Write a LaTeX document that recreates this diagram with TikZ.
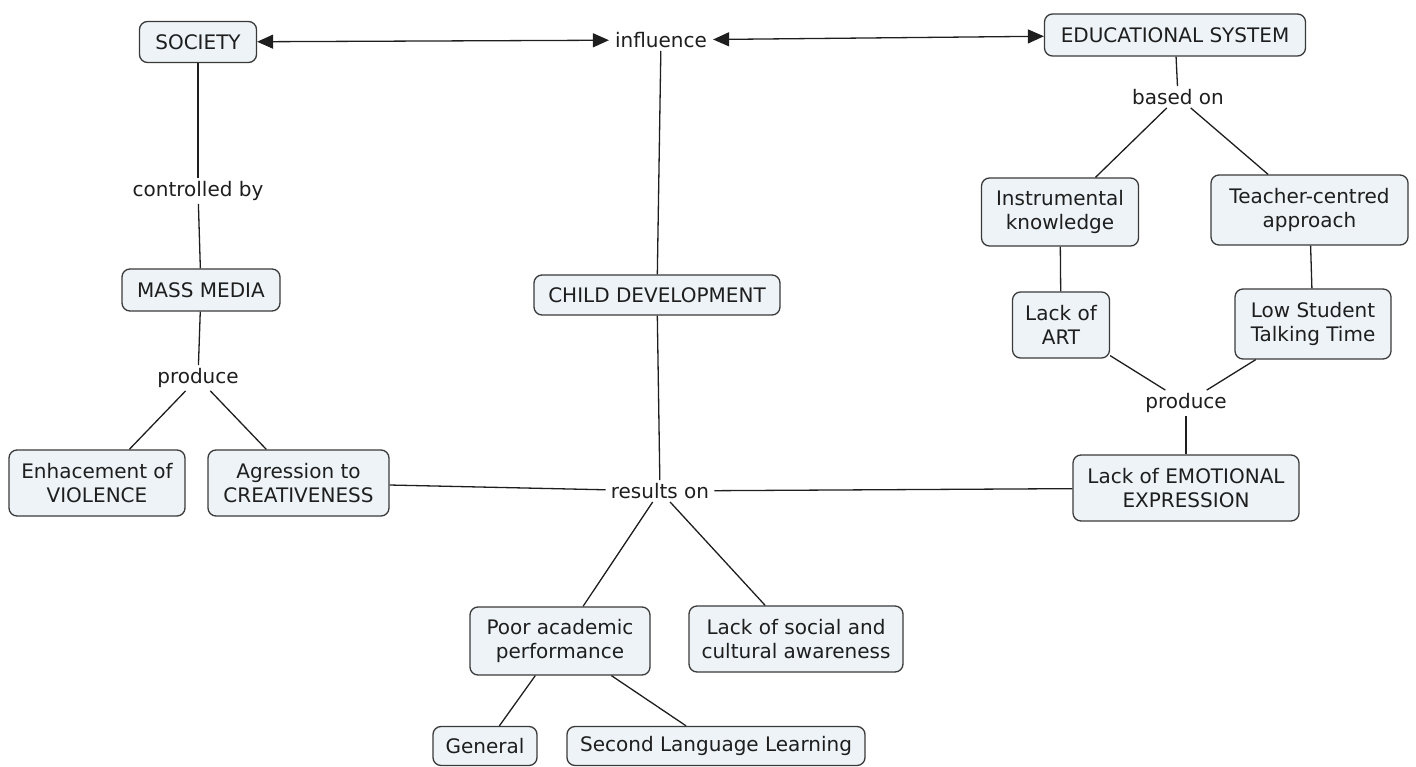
\documentclass[tikz,border=0pt]{standalone}
\usepackage{fontspec}
\setmainfont{DejaVu Sans}
\usetikzlibrary{arrows.meta}
\definecolor{boxfill}{HTML}{EDF3F6}
\definecolor{boxline}{HTML}{3A3A3A}
\definecolor{ink}{HTML}{1E1E1E}
\begin{document}
\begin{tikzpicture}[x=1pt,y=-1pt,
  every node/.style={font=\fontsize{20}{24}\selectfont, text=ink},
  concept/.style={draw=boxline, fill=boxfill, line width=1.3pt, rounded corners=8pt,
    align=center, inner sep=0pt},
  phrase/.style={inner xsep=5pt, inner ysep=3pt, align=center},
  link/.style={draw=ink, line width=1.3pt},
  twoway/.style={link, {Triangle[length=16pt,width=14pt]}-{Triangle[length=16pt,width=14pt]}}
]
\path[use as bounding box] (0,0) rectangle (1416,767);

% concepts
\node[concept, minimum width=117pt, minimum height=41pt] (society) at (198,42) {SOCIETY};
\node[concept, minimum width=261pt, minimum height=42pt] (edu) at (1175,35) {EDUCATIONAL SYSTEM};
\node[concept, minimum width=158pt, minimum height=42pt] (media) at (201,290) {MASS MEDIA};
\node[concept, minimum width=246pt, minimum height=40pt] (child) at (657,295) {CHILD DEVELOPMENT};
\node[concept, minimum width=157pt, minimum height=68pt] (instr) at (1060,212) {Instrumental\\knowledge};
\node[concept, minimum width=197pt, minimum height=70pt] (teacher) at (1309.5,210) {Teacher-centred\\approach};
\node[concept, minimum width=97pt, minimum height=66pt] (art) at (1061,325) {Lack of\\ART};
\node[concept, minimum width=156pt, minimum height=70pt] (stt) at (1313,324) {Low Student\\Talking Time};
\node[concept, minimum width=226pt, minimum height=66pt] (emo) at (1186,488) {Lack of EMOTIONAL\\EXPRESSION};
\node[concept, minimum width=176pt, minimum height=66pt] (viol) at (97,483) {Enhacement of\\VIOLENCE};
\node[concept, minimum width=181pt, minimum height=66pt] (creat) at (298.5,483) {Agression to\\CREATIVENESS};
\node[concept, minimum width=180pt, minimum height=68pt] (poor) at (560,641) {Poor academic\\performance};
\node[concept, minimum width=214pt, minimum height=66pt] (social) at (796,639) {Lack of social and\\cultural awareness};
\node[concept, minimum width=104pt, minimum height=39pt] (general) at (485,746) {General};
\node[concept, minimum width=298pt, minimum height=39pt] (sll) at (716,746) {Second Language Learning};

% linking phrases
\node[phrase, inner xsep=6pt] (influence) at (661,40) {influence};
\node[phrase] (controlled) at (198,191) {controlled by};
\node[phrase] (produceL) at (198,378) {produce};
\node[phrase] (basedon) at (1178,97) {based on};
\node[phrase] (produceR) at (1186,403) {produce};
\node[phrase] (results) at (660,491) {results on};

% connections
\draw[twoway] (society) -- (influence);
\draw[twoway] (influence) -- (edu);
\draw[link] (influence) -- (child);
\draw[link] (society) -- (controlled);
\draw[link] (controlled) -- (media);
\draw[link] (media) -- (produceL);
\draw[link] (produceL) -- (viol);
\draw[link] (produceL) -- (creat);
\draw[link] (child) -- (results);
\draw[link] (creat) -- (results);
\draw[link] (results) -- (emo);
\draw[link] (results) -- (poor);
\draw[link] (results) -- (social);
\draw[link] (poor) -- (general);
\draw[link] (poor) -- (sll);
\draw[link] (edu) -- (basedon);
\draw[link] (basedon) -- (instr);
\draw[link] (basedon) -- (teacher);
\draw[link] (instr) -- (art);
\draw[link] (teacher) -- (stt);
\draw[link] (art) -- (produceR);
\draw[link] (stt) -- (produceR);
\draw[link] (produceR) -- (emo);
\end{tikzpicture}
\end{document}
